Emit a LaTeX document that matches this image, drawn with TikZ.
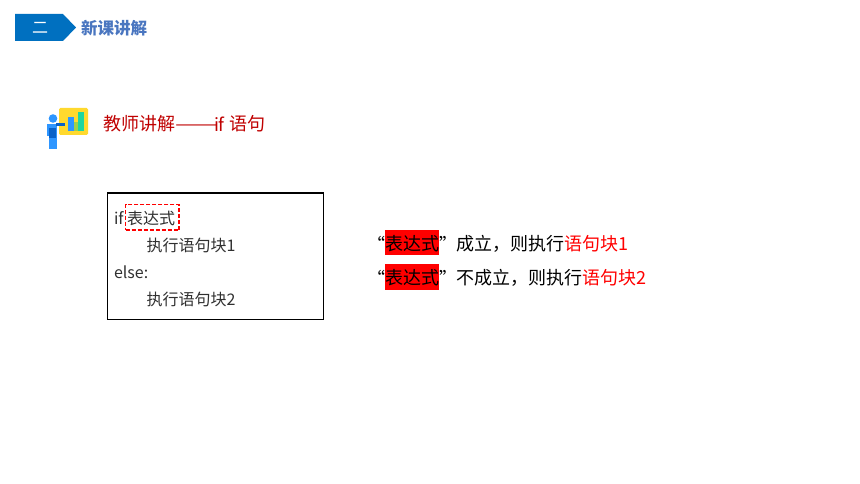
\documentclass[tikz,border=0pt]{standalone}
\usepackage{graphicx}
\usepackage{fontspec}
\setmainfont{Noto Sans CJK SC}
\definecolor{bannerblue}{HTML}{0070C0}
\definecolor{titleblue}{HTML}{4A76C0}
\definecolor{darkred}{HTML}{C00000}
\definecolor{inktext}{HTML}{303030}
\definecolor{figblue}{HTML}{2E96FF}
\definecolor{figdark}{HTML}{0A62C8}
\definecolor{boardyellow}{HTML}{FFD92E}
\definecolor{barlime}{HTML}{A0D048}
\definecolor{barteal}{HTML}{1FD6A0}
\tikzset{
  txt/.style={inner sep=0pt,outer sep=0pt,anchor=west,font=\fontsize{13.5pt}{13.5pt}\selectfont,text=black},
  code/.style={txt,font=\fontsize{12pt}{12pt}\selectfont,text=inktext},
  redtxt/.style={txt,text=red},
  hilite/.style={fill=red,minimum width=41pt,minimum height=18.8pt,inner sep=0pt,outer sep=0pt,anchor=north west}
}
\begin{document}
\begin{tikzpicture}[x=0.75pt,y=-0.75pt]
\useasboundingbox (0,0) rectangle (860,484);
\fill[white] (0,0) rectangle (860,484);
% banner
\fill[bannerblue] (15,14) -- (63,14) -- (76,27.5) -- (63,41) -- (15,41) -- cycle;
\node[txt,text=white,anchor=center,font=\fontsize{12pt}{12pt}\selectfont] (num) at (40,28) {二};
\node[txt,text=titleblue,font=\fontsize{12.4pt}{12.4pt}\selectfont\bfseries] (head) at (81,28) {新课讲解};
% teacher icon
\fill[boardyellow,rounded corners=1pt] (59,108) rectangle (88,135);
\fill[figblue] (67.5,117) rectangle (73.5,131);
\fill[barlime] (73.5,122) rectangle (78,131);
\fill[barteal] (78,112) rectangle (84,131);
\fill[figblue] (53,118.5) circle (4.3);
\fill[figblue] (47,124) rectangle (57,136);
\fill[figblue] (49,136) rectangle (56.5,149);
\fill[figdark] (49,128) rectangle (56,138);
\fill[figdark] (56,123.5) rectangle (65,126);
% title
\node[txt,text=darkred] (title) at (103,124) {教师讲解};
\node[txt,text=darkred] (titledash) at (175,128) {\scalebox{1.42}[1]{——}};
\node[txt,text=darkred] (titleif) at (214,124) {if};
\node[txt,text=darkred] (titlecn) at (229.5,124) {语句};
% code box
\node[draw=black,line width=1.1pt,outer sep=0pt,minimum width=162pt,minimum height=94.9pt,inner sep=0pt,anchor=north west] (box) at (107.5,193) {};
\node[code] (l1) at (114,218) {if};
\node[code] (expr) at (127,218) {表达式};
\node[draw=red,line width=1.2pt,dash pattern=on 3pt off 1.5pt,outer sep=0pt,minimum width=40.3pt,minimum height=19pt,inner sep=0pt,anchor=north west] (exprbox) at (125.5,204.5) {};
\node[code] (l2) at (146.5,245) {执行语句块1};
\node[code] (l3) at (114,272) {else:};
\node[code] (l4) at (146.5,299) {执行语句块2};
% right side, row 1
\node[hilite] (hl1) at (384.5,230) {};
\node[txt] (e1) at (385,244) {表达式};
\node[txt,anchor=east] (q1a) at (385,244) {“};
\node[txt] (q1b) at (439,244) {”};
\node[txt] (r1) at (456,244) {成立，则执行};
\node[redtxt] (r1b) at (564,244) {语句块1};
% right side, row 2
\node[hilite] (hl2) at (384.5,264.5) {};
\node[txt] (e2) at (385,278) {表达式};
\node[txt,anchor=east] (q2a) at (385,278) {“};
\node[txt] (q2b) at (439,278) {”};
\node[txt] (r2) at (456,278) {不成立，则执行};
\node[redtxt] (r2b) at (582,278) {语句块2};
\end{tikzpicture}
\end{document}
